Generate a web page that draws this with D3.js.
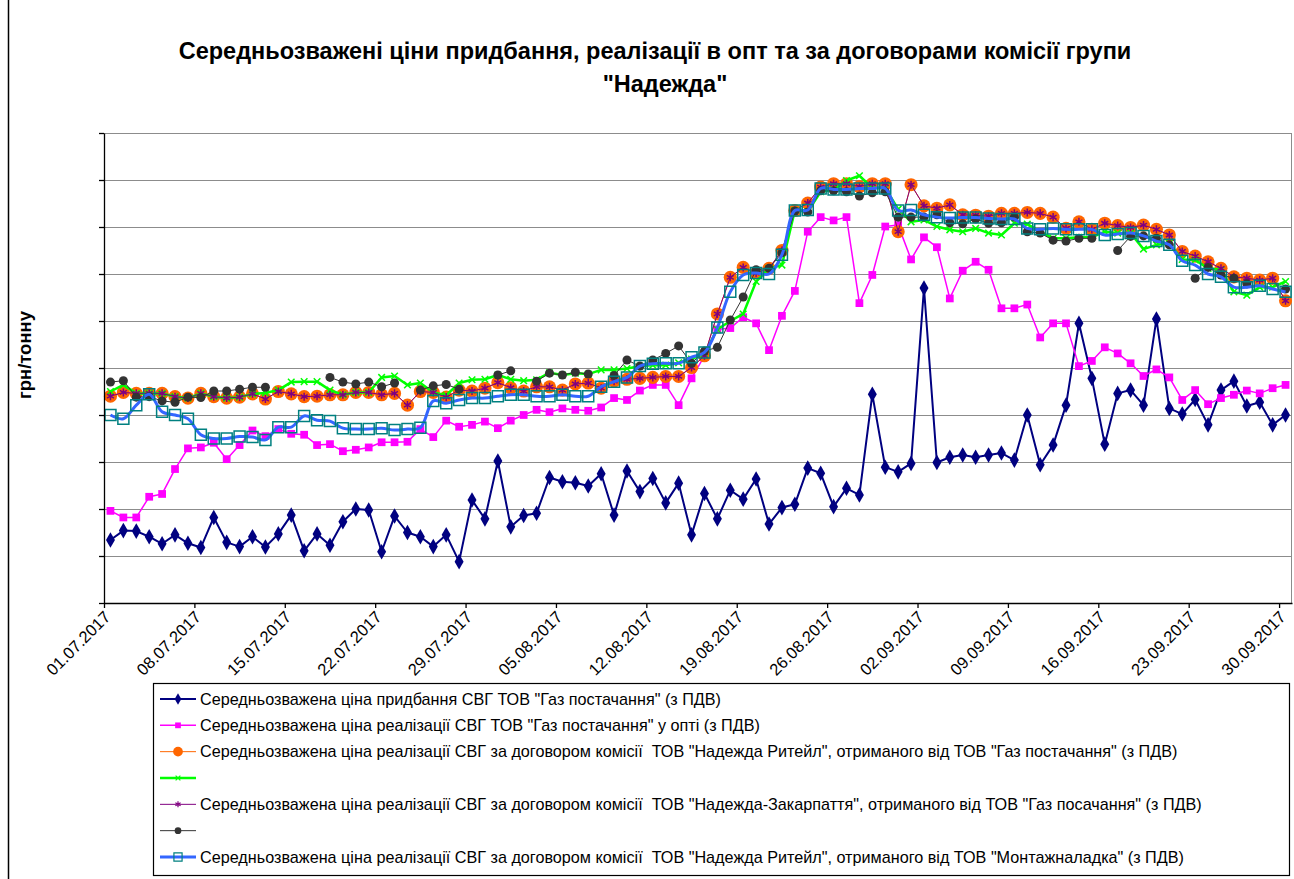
<!DOCTYPE html>
<html>
<head>
<meta charset="utf-8">
<title>Середньозважені ціни</title>
<script src="https://cdn.jsdelivr.net/npm/d3@7"></script>
<style>
  body { margin: 0; background: #fff; }
  svg { display: block; font-family: "Liberation Sans", Arial, sans-serif; }
  .grid line { stroke: #8c8c8c; stroke-width: 1; }
  .axis path, .axis line { stroke: #000; stroke-width: 1.3; }
  .axis text { font-size: 16.5px; fill: #000; }
  .legend text { font-size: 16.2px; fill: #000; white-space: pre; }
</style>
</head>
<body>
<svg id="chart" width="1294" height="879"></svg>
<script>
// --- data (грн/тонну, one value per day 01.07.2017 - 30.09.2017) ---
const startDate = new Date(2017, 6, 1);
const endDate = new Date(2017, 9, 1);
const days = d3.timeDay.range(startDate, endDate);

const purchase = [11340,11540,11530,11410,11260,11450,11270,11180,11820,11290,
  11200,11410,11190,11470,11870,11110,11470,11230,11730,12000,
  11980,11090,11850,11500,11410,11200,11450,10880,12190,11790,
  13020,11620,11860,11910,12670,12580,12560,12490,12750,11870,
  12810,12370,12650,12130,12550,11450,12330,11790,12400,12210,
  12640,11680,12030,12100,12870,12760,12050,12440,12300,14440,
  12890,12790,12970,16700,12990,13100,13150,13100,13150,13190,
  13040,14000,12940,13360,14210,15950,14780,13380,14460,14530,
  14210,16040,14140,14020,14330,13790,14530,14720,14190,14270,
  13790,14000];

const wholesale = [11960,11820,11820,12260,12320,12850,13290,13310,13410,13060,
  13360,13670,13550,13700,13600,13580,13360,13380,13230,13260,
  13310,13420,13420,13430,13700,13530,13880,13750,13790,13860,
  13720,13880,14000,14110,14060,14140,14110,14090,14160,14360,
  14320,14520,14640,14640,14210,14780,15260,15820,15850,16080,
  15950,15380,16110,16640,17900,18210,18140,18210,16380,16980,
  18010,18040,17310,17780,17570,16480,17070,17260,17090,16270,
  16270,16350,15650,15950,15950,15040,15150,15440,15310,15100,
  14830,14970,14800,14320,14530,14230,14360,14430,14520,14460,
  14570,14640];

const retailGaz = [14400,14480,14460,14460,14460,14390,14360,14460,14390,14360,
  14380,14450,14340,14500,14450,14390,14400,14430,14430,14480,
  14480,14430,14460,14210,14500,14480,14380,14530,14510,14570,
  14690,14580,14510,14600,14600,14530,14660,14680,14570,14720,
  14760,14780,14800,14820,14820,15010,15260,16150,16930,17140,
  17020,17120,17500,18350,18510,18850,18920,18920,18860,18920,
  18920,17900,18900,18450,18400,18470,18260,18250,18230,18290,
  18290,18310,18290,18210,17970,18110,17950,18080,18030,17990,
  18040,17950,17830,17480,17380,17260,17120,16940,16910,16870,
  16910,16430];

const unnamedGreen = [14500,14640,14460,14460,14460,14390,14360,14460,14390,14360,
  14380,14450,14470,14530,14700,14710,14710,14530,14430,14480,
  14480,14800,14830,14640,14680,14480,14420,14680,14750,14760,
  14850,14760,14730,14750,14900,14850,14890,14870,14960,14960,
  14990,15040,15060,15060,15110,15190,15310,15820,16000,16150,
  16840,17120,17190,18350,18330,18750,18790,18990,19090,18830,
  18830,18380,18110,18150,18010,17940,17900,17970,17870,17830,
  18080,18060,17900,17760,17760,17780,17780,17900,17870,17870,
  17530,17620,17650,17310,17300,17120,17090,16620,16550,16720,
  16720,16840];

// Закарпаття coincides with the Ритейл/Газ постачання series on the picture
const zakarpattya = retailGaz.slice();

const unnamedBlack = [14700,14730,14380,14390,14300,14270,14380,14370,14510,14510,
  14550,14590,14590,null,null,null,null,14800,14700,14660,
  14700,14600,14680,null,14530,14620,14650,14550,null,null,
  14850,14940,null,14720,14890,14850,14910,14870,null,14840,
  15170,15040,15170,15310,15470,15100,15360,15440,16020,16510,
  17090,17120,17450,18340,18320,18770,18770,18750,18660,18730,
  18750,18210,18210,18210,18260,18090,18070,18170,18080,18090,
  18210,17900,17870,17720,17700,17760,17760,null,17500,17800,
  17810,17760,17620,null,16910,17140,16980,16910,16790,null,
  null,16680];

const retailMontazh = [14000,13920,14210,14440,14070,14000,13920,13580,13500,13500,
  13540,13530,13470,13740,13740,13980,13890,13870,13720,13700,
  13700,13720,13680,13700,13730,14300,14250,14320,14360,14360,
  14400,14430,14430,14400,14400,14430,14400,14400,14600,14710,
  14800,15040,15090,15100,15100,15230,15330,15860,16620,16980,
  17020,17000,17410,18350,18360,18820,18800,18800,18820,18820,
  18820,18350,18360,18260,18210,18190,18200,18200,18180,18170,
  18170,17970,17950,17970,17950,17950,17950,17830,17850,17870,
  17810,17700,17620,17280,17190,17000,16940,16720,16720,16750,
  16680,16620];

const yMin = 10000, yMax = 20000, yStep = 1000;

const titleLines = ["Середньозважені ціни придбання, реалізації в опт та за договорами комісії групи", "\"Надежда\""];
const yTitle = "грн/тонну";

const seriesNames = [
  "Середньозважена ціна придбання СВГ ТОВ \"Газ постачання\" (з ПДВ)",
  "Середньозважена ціна реалізації СВГ ТОВ \"Газ постачання\" у опті (з ПДВ)",
  "Середньозважена ціна реалізації СВГ за договором комісії  ТОВ \"Надежда Ритейл\", отриманого від ТОВ \"Газ постачання\" (з ПДВ)",
  "",
  "Середньозважена ціна реалізації СВГ за договором комісії  ТОВ \"Надежда-Закарпаття\", отриманого від ТОВ \"Газ посачання\" (з ПДВ)",
  "",
  "Середньозважена ціна реалізації СВГ за договором комісії  ТОВ \"Надежда Ритейл\", отриманого від ТОВ \"Монтажналадка\" (з ПДВ)"
];

// --- styles per series ---
const series = [
  { values: purchase, line: "#000080", width: 2, symbol: d3.symbolDiamond, size: 70, fill: "#000080", stroke: "none" },
  { values: wholesale, line: "#ff00ff", width: 1.5, symbol: d3.symbolSquare, size: 60, fill: "#ff00ff", stroke: "none" },
  { values: retailGaz, line: "#ff6600", width: 1, symbol: d3.symbolCircle, size: 135, fill: "#ff6600", stroke: "none" },
  { values: unnamedGreen, line: "#00ff00", width: 2.5, symbol: d3.symbolX, size: 30, fill: "none", stroke: "#00ff00" },
  { values: zakarpattya, line: "#800080", width: 1, symbol: d3.symbolAsterisk, size: 45, fill: "none", stroke: "#800080" },
  { values: unnamedBlack, line: "#333333", width: 1, symbol: d3.symbolCircle, size: 64, fill: "#333333", stroke: "none" },
  { values: retailMontazh, line: "#3366ff", width: 3, symbol: d3.symbolSquare, size: 121, fill: "none", stroke: "#008080", smooth: true }
];

const svg = d3.select("#chart");
const plotLeft = 104, plotRight = 1292, plotTop = 133, plotBottom = 603;

const x = d3.scaleTime().domain([startDate, endDate]).range([plotLeft, plotRight]);
const y = d3.scaleLinear().domain([yMin, yMax]).range([plotBottom, plotTop]);
const xMid = d => x(d3.timeHour.offset(d, 12));

// outer chart border (left edge visible)
svg.append("line").attr("x1", 8.5).attr("x2", 8.5).attr("y1", 0).attr("y2", 879)
  .attr("stroke", "#000").attr("stroke-width", 1.5);

// title
svg.append("text").attr("x", 655).attr("y", 59).attr("text-anchor", "middle")
  .style("font-size", "23.5px").style("font-weight", "bold").text(titleLines[0]);
svg.append("text").attr("x", 665).attr("y", 92).attr("text-anchor", "middle")
  .style("font-size", "23.5px").style("font-weight", "bold").text(titleLines[1]);

// y title
svg.append("text").attr("transform", "translate(31,355) rotate(-90)")
  .attr("text-anchor", "middle").style("font-size", "18.5px").style("font-weight", "bold")
  .text(yTitle);

// grid
const yTicks = d3.range(yMin, yMax + 1, yStep);
svg.append("g").attr("class", "grid")
  .selectAll("line").data(yTicks.slice(1)).enter().append("line")
  .attr("x1", plotLeft).attr("x2", plotRight)
  .attr("y1", d => Math.round(y(d)) + 0.5).attr("y2", d => Math.round(y(d)) + 0.5);
svg.append("line").attr("x1", plotRight - 0.5).attr("x2", plotRight - 0.5)
  .attr("y1", plotTop).attr("y2", plotBottom).attr("stroke", "#8c8c8c");

// series
const plot = svg.append("g");
series.forEach(s => {
  const pts = days.map((d, i) => ({ d: d, v: s.values[i] }));
  const line = d3.line().defined(p => p.v != null)
    .x(p => xMid(p.d)).y(p => y(p.v))
    .curve(s.smooth ? d3.curveCatmullRom.alpha(0.5) : d3.curveLinear);
  plot.append("path").datum(pts).attr("d", line)
    .attr("fill", "none").attr("stroke", s.line).attr("stroke-width", s.width)
    .attr("stroke-linejoin", "round");
  plot.append("g").selectAll("path").data(pts.filter(p => p.v != null)).enter().append("path")
    .attr("transform", p => "translate(" + xMid(p.d) + "," + y(p.v) + ")")
    .attr("d", d3.symbol().type(s.symbol).size(s.size))
    .attr("fill", s.fill).attr("stroke", s.stroke).attr("stroke-width", 1.5);
});

// axes
const yAxis = d3.axisLeft(y).tickValues(yTicks).tickSize(5).tickSizeOuter(0).tickFormat("");
svg.append("g").attr("class", "axis").attr("transform", "translate(" + plotLeft + ",0)").call(yAxis);

const weekTicks = d3.range(0, days.length, 7).map(k => days[k]);
const xAxis = d3.axisBottom(x).tickValues(weekTicks).tickSize(5).tickSizeOuter(0)
  .tickFormat(d3.timeFormat("%d.%m.%Y"));
const gx = svg.append("g").attr("class", "axis").attr("transform", "translate(0," + plotBottom + ")").call(xAxis);
gx.selectAll("text")
  .attr("x", 0).attr("y", 0).attr("dy", "0.35em")
  .attr("text-anchor", "end")
  .attr("transform", "translate(3,11) rotate(-45)");

// legend
const lg = svg.append("g").attr("class", "legend");
lg.append("rect").attr("x", 153.5).attr("y", 683.5).attr("width", 1136).attr("height", 192)
  .attr("fill", "#fff").attr("stroke", "#000").attr("stroke-width", 1.2);
const rowY = d3.scalePoint().domain(d3.range(seriesNames.length)).range([699, 857]);
series.forEach((s, i) => {
  const cy = rowY(i);
  lg.append("line").attr("x1", 160).attr("x2", 196).attr("y1", cy).attr("y2", cy)
    .attr("stroke", s.line).attr("stroke-width", s.width);
  lg.append("path").attr("transform", "translate(178," + cy + ")")
    .attr("d", d3.symbol().type(s.symbol).size(s.size * 0.55))
    .attr("fill", s.fill).attr("stroke", s.stroke).attr("stroke-width", 1.2);
  lg.append("text").attr("x", 200).attr("y", cy).attr("dy", "0.35em").text(seriesNames[i]);
});
</script>
</body>
</html>
